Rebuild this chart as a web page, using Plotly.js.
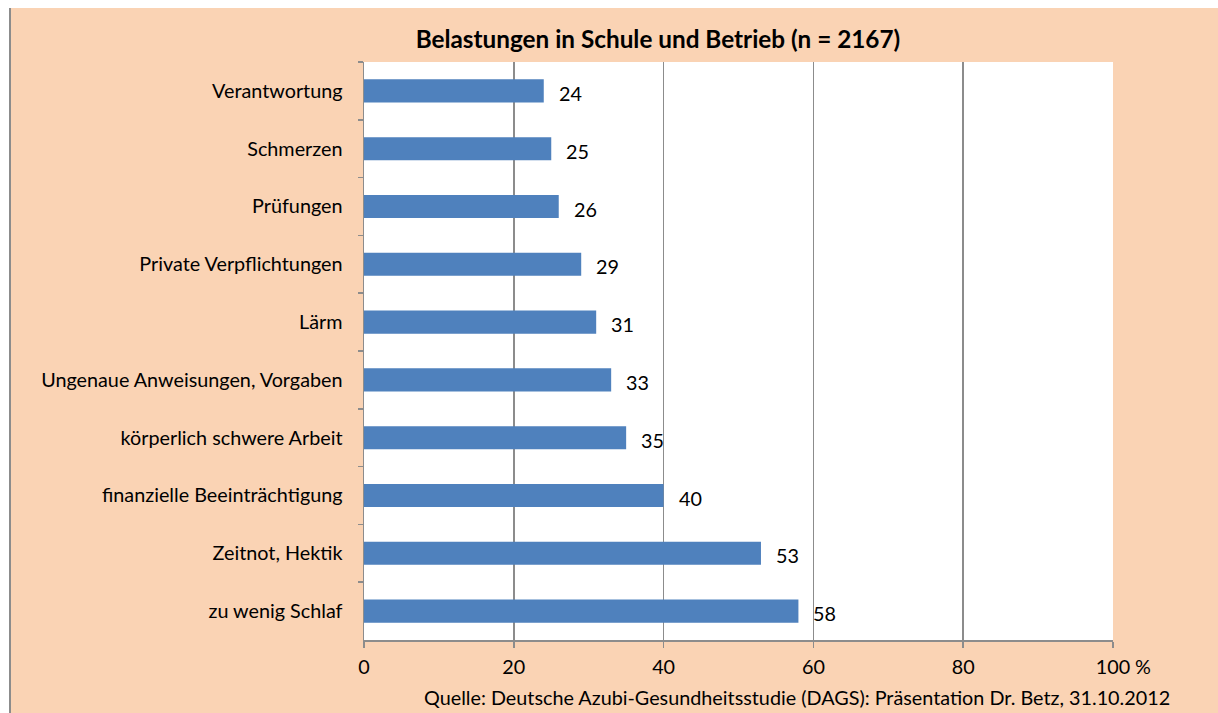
<!DOCTYPE html>
<html><head><meta charset="utf-8">
<script src="https://cdn.plot.ly/plotly-3.0.1.min.js"></script>
<style>
html,body{margin:0;padding:0;background:#fff;width:1218px;height:713px;overflow:hidden}
#chart{position:absolute;left:11px;top:8px;width:1207px;height:705px;}
#bord{position:absolute;left:9px;top:8px;width:2px;height:705px;background:#8c8c8c}
</style></head>
<body><div id="bord"></div><div id="chart"></div>
<script>
const categories = ["Verantwortung","Schmerzen","Prüfungen","Private Verpflichtungen","Lärm","Ungenaue Anweisungen, Vorgaben","körperlich schwere Arbeit","finanzielle Beeinträchtigung","Zeitnot, Hektik","zu wenig Schlaf"];
const values = [24,25,26,29,31,33,35,40,53,58];
const tickVals = [0,20,40,60,80,100];
const tickText = ["0","20","40","60","80","100"];
const titleText = "Belastungen in Schule und Betrieb (n = 2167)";
const sourceText = "Quelle: Deutsche Azubi-Gesundheitsstudie (DAGS): Präsentation Dr. Betz, 31.10.2012";

const font = "Lato, 'Open Sans', sans-serif";
const fs = 19.8;
const annotations = categories.map((c,i)=>({x:values[i],y:c,xref:'x',yref:'y',text:String(values[i]),showarrow:false,xanchor:'left',yanchor:'middle',xshift:13,yshift:-2,font:{size:fs,color:'#000',family:font}}));
annotations.push({x:100,y:0,xref:'x',yref:'paper',text:'%',showarrow:false,xanchor:'left',yanchor:'middle',xshift:20,yshift:-26,font:{size:fs,color:'#000',family:font}});
annotations.push({x:1.0788,y:0,xref:'paper',yref:'paper',text:sourceText,showarrow:false,xanchor:'right',yanchor:'middle',yshift:-57,font:{size:fs,color:'#000',family:font}});

Plotly.newPlot('chart',[{
  type:'bar',orientation:'h',x:values,y:categories,marker:{color:'#4F81BD'},hoverinfo:'none'
}],{
  width:1207,height:705,
  margin:{l:353,r:105,t:54,b:73},
  paper_bgcolor:'#FAD3B4',plot_bgcolor:'#FFFFFF',
  bargap:0.6,
  font:{family:font,size:fs,color:'#000'},
  title:{text:'<b>'+titleText+'</b>',x:0.536,xanchor:'center',y:0.956,yanchor:'middle',font:{size:24.3,color:'#000',family:font}},
  xaxis:{range:[0,100],tickvals:tickVals,ticktext:tickText,showgrid:true,gridcolor:'#8c8c8c',gridwidth:1.5,
    showline:true,linecolor:'#8c8c8c',linewidth:1.5,ticks:'outside',ticklen:6,tickcolor:'#8c8c8c',tickwidth:1.5,zeroline:false,
    ticklabelstandoff:3,tickfont:{size:fs,family:font,color:'#000'},fixedrange:true},
  yaxis:{type:'category',autorange:'reversed',showline:true,linecolor:'#8c8c8c',linewidth:1.5,ticks:'outside',tickson:'boundaries',
    ticklen:5,tickcolor:'#8c8c8c',tickwidth:1.5,showgrid:false,ticklabelstandoff:16,tickfont:{size:fs,family:font,color:'#000'},fixedrange:true},
  annotations:annotations,
  showlegend:false
},{staticPlot:true});
</script></body></html>
